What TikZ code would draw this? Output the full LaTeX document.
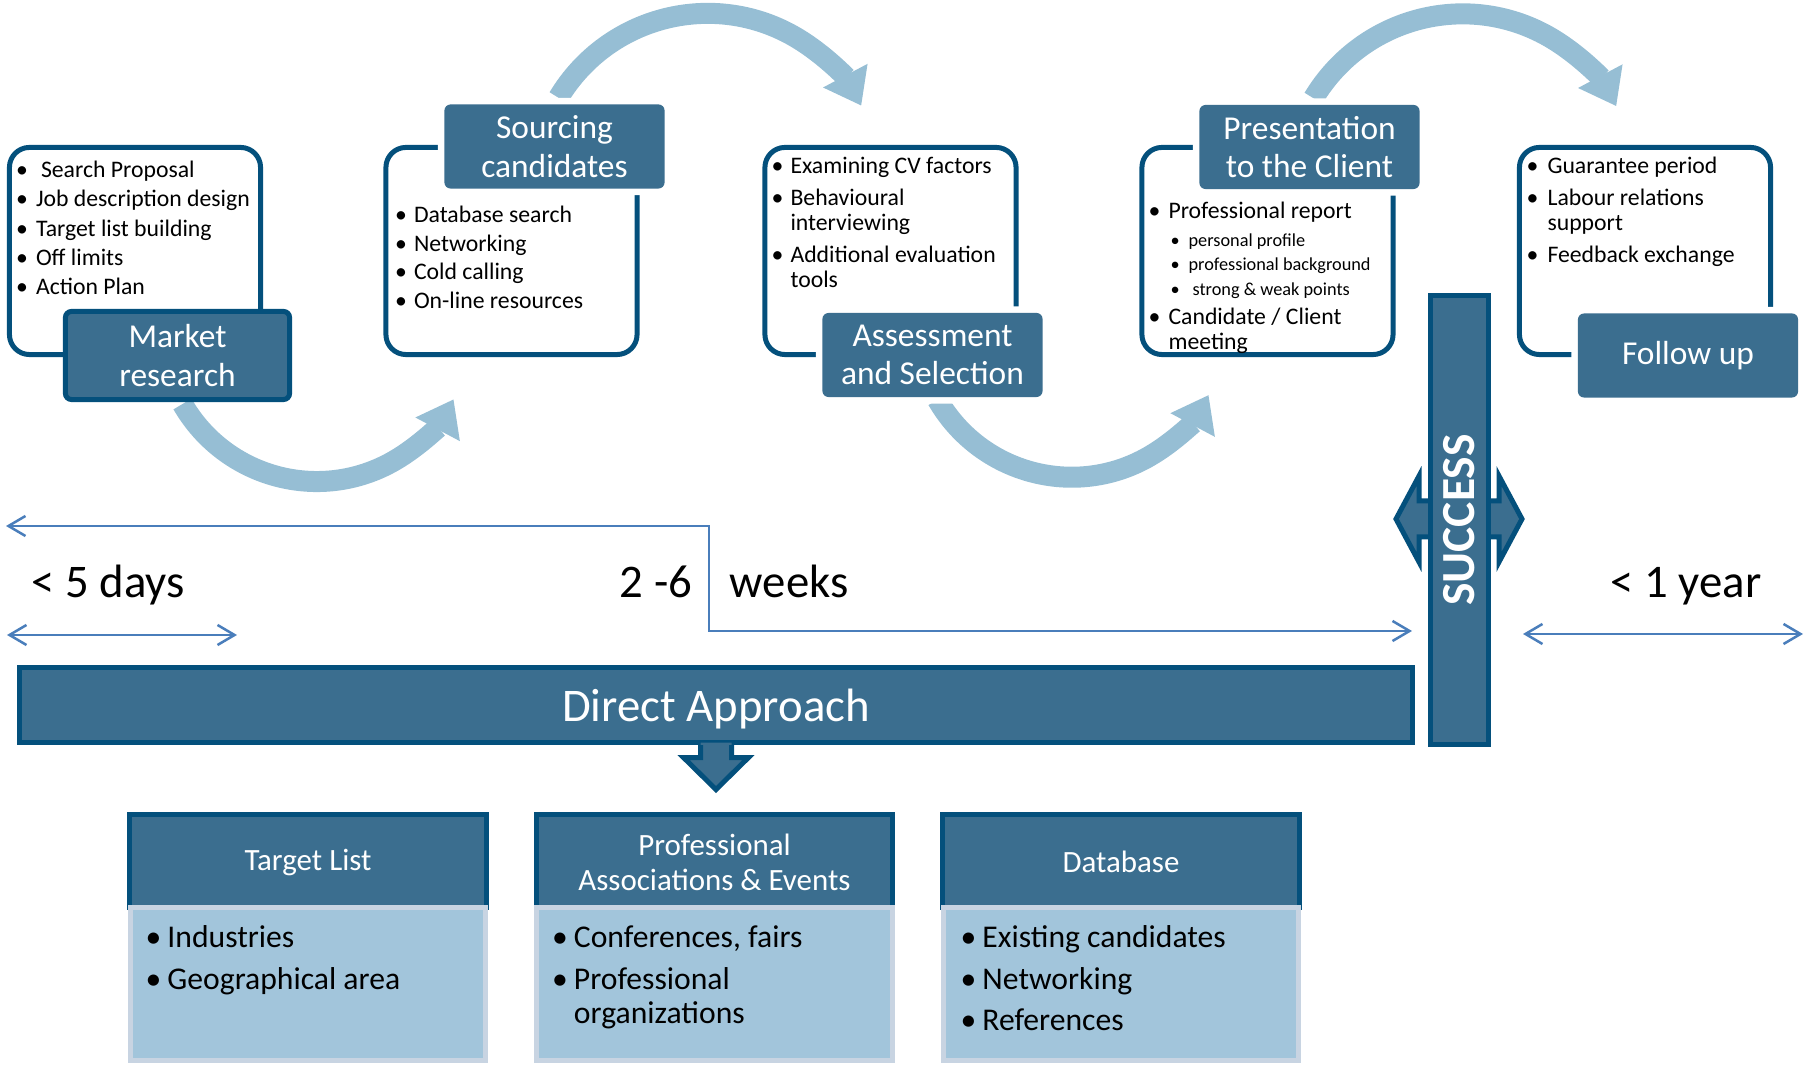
\documentclass[tikz,border=0pt]{standalone}
\usepackage{fontspec}
\setmainfont{Carlito}
\usepackage{tikz}
\usetikzlibrary{arrows.meta, positioning, calc, backgrounds}
\definecolor{tblue}{RGB}{59,110,143}
\definecolor{tdark}{RGB}{4,80,124}
\definecolor{tlight}{RGB}{150,190,212}
\definecolor{tbody}{RGB}{162,197,219}
\definecolor{tedge}{RGB}{200,212,226}
\definecolor{tline}{RGB}{74,126,187}

\newcommand{\fsz}[2]{\fontsize{#1}{#2}\selectfont}

\tikzset{
  lbox/.style={draw=tdark, line width=0.5mm, rounded corners=2mm,
    minimum width=25.1mm, minimum height=20.7mm},
  ttl/.style={fill=tblue, text=white, rounded corners=0.6mm, align=center,
    inner sep=0pt, font=\fsz{9.5}{10.9}, minimum width=22mm, minimum height=8.4mm},
  halo/.style={preaction={draw=white, line width=1.3mm}},
  items/.style={anchor=base west, inner sep=0pt, text=black},
  flow/.style={draw=tlight, line width=2.1mm, -{Triangle[length=3.4mm, width=4.8mm]}},
  tspan/.style={draw=tline, line width=0.25mm,
    {Straight Barb[length=1.7mm, width=2mm]}-{Straight Barb[length=1.7mm, width=2mm]}},
  big/.style={font=\fsz{13.3}{16}, inner sep=0pt},
  hdr/.style={fill=tblue, text=white, align=center, inner sep=0pt,
    font=\fsz{8.8}{10}, minimum width=35.5mm, minimum height=9.35mm},
  bbody/.style={fill=tbody, draw=tedge, line width=0.5mm,
    minimum width=35.5mm, minimum height=15.3mm},
}

\begin{document}
\begin{tikzpicture}[x=0.01cm, y=-0.01cm]
\useasboundingbox (0,0) rectangle (1805,1065);

% stage boxes
\foreach \n/\x in {1/135, 2/511.5, 3/890.5, 4/1267.5, 5/1645}
  \node[lbox] (l\n) at (\x,251) {};

\node[ttl, draw=tdark, line width=0.5mm, minimum width=22.4mm, minimum height=8.8mm]
  (t1) at (177.5,355.5) {Market\\research};
\node[ttl, halo] (t2) at (554.5,146.5) {Sourcing\\candidates};
\node[ttl, halo] (t3) at (932.5,355) {Assessment\\and Selection};
\node[ttl, halo] (t4) at (1309.5,147) {Presentation\\to the Client};
\node[ttl, halo] (t5) at (1688,355.5) {Follow up};

\node[items, font=\fsz{6.75}{8.25}] (i1) at (15.5,178) {%
  \begin{tabular}[t]{@{}l@{\hspace{0.8mm}}l@{}}
  \textbullet & \hspace{0.5mm}Search Proposal\\
  \textbullet & Job description design\\
  \textbullet & Target list building\\
  \textbullet & Off limits\\
  \textbullet & Action Plan
  \end{tabular}};
\node[items, font=\fsz{6.75}{8.1}] (i2) at (394.5,223) {%
  \begin{tabular}[t]{@{}l@{\hspace{0.7mm}}l@{}}
  \textbullet & Database search\\
  \textbullet & Networking\\
  \textbullet & Cold calling\\
  \textbullet & On-line resources
  \end{tabular}};
\node[items, font=\fsz{6.75}{7.25}] (i3) at (771,174) {%
  \begin{tabular}[t]{@{}l@{\hspace{0.7mm}}l@{}}
  \textbullet & Examining CV factors\\[1.7pt]
  \textbullet & Behavioural\\
              & interviewing\\[1.7pt]
  \textbullet & Additional evaluation\\
              & tools
  \end{tabular}};
\node[items, font=\fsz{6.75}{7}] (i4) at (1148,219) {%
  \begin{tabular}[t]{@{}l@{\hspace{0.8mm}}l@{}}
  \textbullet & Professional report\\[0.7pt]
  & {\fsz{5.2}{6}\hspace{0.2mm}\textbullet\hspace{0.9mm}personal profile}\\
  & {\fsz{5.2}{6}\hspace{0.2mm}\textbullet\hspace{0.9mm}professional background}\\
  & {\fsz{5.2}{6}\hspace{0.2mm}\textbullet\hspace{1.3mm}strong \& weak points}\\[1.3pt]
  \textbullet & Candidate / Client\\
              & meeting
  \end{tabular}};
\node[items, font=\fsz{6.75}{7.25}] (i5) at (1526,174) {%
  \begin{tabular}[t]{@{}l@{\hspace{0.9mm}}l@{}}
  \textbullet & Guarantee period\\[1.7pt]
  \textbullet & Labour relations\\
              & support\\[1.7pt]
  \textbullet & Feedback exchange
  \end{tabular}};

% curved arrows between the stages
\begin{pgfonlayer}{background}
\draw[flow] ([shift={(5,2)}]t1.south) arc[start angle=150, end angle=28, radius=155];
\draw[flow] ([shift={(4,-6)}]t2.north) arc[start angle=-149, end angle=-28, radius=174];
\draw[flow] ([shift={(5,2)}]t3.south) arc[start angle=150, end angle=28, radius=155];
\draw[flow] ([shift={(4,-6)}]t4.north) arc[start angle=-149, end angle=-28, radius=174];
\end{pgfonlayer}

% time line
\coordinate (w0) at (6,526);
\coordinate (w1) at (1412,631);
\coordinate (d0) at (7,635);
\coordinate (d1) at (237,635);
\coordinate (y0) at (1523,634);
\coordinate (y1) at (1803,634);
\draw[tspan] (w0) -- (709,526) |- (w1);
\draw[tspan] (d0) -- (d1);
\draw[tspan] (y0) -- (y1);

\node[big, anchor=base west] (days) at (31,598) {< 5 days};
\node[big, anchor=base east] (wk0) at (693,598) {2 -6};
\node[big, anchor=base west] (wk1) at (729,598) {weeks};
\node[big, anchor=base west] (yr) at (1610,598) {< 1 year};

% success bar
\draw[fill=tblue, draw=tdark, line width=0.5mm] (1396,519) -- (1419,476) -- (1419,501)
  -- (1499,501) -- (1499,476) -- (1522,519) -- (1499,562) -- (1499,537)
  -- (1419,537) -- (1419,562) -- cycle;
\node[draw=tdark, fill=tblue, line width=0.5mm, rotate=90, minimum width=44.9mm,
  minimum height=5.8mm, text=white, font=\bfseries\fsz{13.5}{16}] (succ) at (1459.5,520) {SUCCESS};

% direct approach
\node[draw=tdark, fill=tblue, line width=0.5mm, minimum width=139.3mm, minimum height=7.5mm,
  text depth=0pt, text=white, font=\fsz{13.3}{16}] (da) at (716,705) {Direct Approach};
\fill[tblue] ($(da.south)+(-15.5,-2.5)$) -- ++(0,15) -- ++(-17,0) -- ($(da.south)+(0,44.5)$)
  -- ($(da.south)+(32.5,12.5)$) -- ++(-17,0) -- ++(0,-15) -- cycle;
\draw[tdark, line width=0.5mm] ($(da.south)+(-15.5,0)$) -- ++(0,12.5) -- ++(-17,0)
  -- ($(da.south)+(0,44.5)$) -- ($(da.south)+(32.5,12.5)$) -- ++(-17,0) -- ++(0,-12.5);

% channels
\foreach \n/\x/\h in {1/308/{Target List}, 2/714.5/{Professional\\Associations \& Events},
    3/1121/Database} {
  \node[hdr] (h\n) at (\x,862.25) {\h};
  \draw[tdark, line width=0.5mm] (h\n.south west) |- (h\n.north east) -- (h\n.south east);
  \node[bbody] (b\n) at (\x,984) {};
}

\node[items, font=\fsz{9}{9.7}] (bt1) at (145,948) {%
  \begin{tabular}[t]{@{}l@{\hspace{0.6mm}}l@{}}
  \textbullet & Industries\\[2pt]
  \textbullet & Geographical area
  \end{tabular}};
\node[items, font=\fsz{9}{9.7}] (bt2) at (551.5,948) {%
  \begin{tabular}[t]{@{}l@{\hspace{0.6mm}}l@{}}
  \textbullet & Conferences, fairs\\[2pt]
  \textbullet & Professional\\
              & organizations
  \end{tabular}};
\node[items, font=\fsz{9}{9.7}] (bt3) at (960,948) {%
  \begin{tabular}[t]{@{}l@{\hspace{0.6mm}}l@{}}
  \textbullet & Existing candidates\\[2pt]
  \textbullet & Networking\\[2pt]
  \textbullet & References
  \end{tabular}};

\end{tikzpicture}
\end{document}
